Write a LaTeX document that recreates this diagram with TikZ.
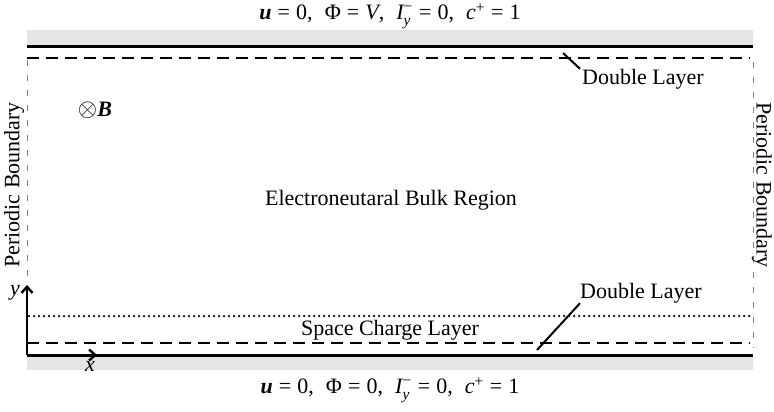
\documentclass[tikz,border=0pt]{standalone}
\usepackage{amsmath}
\usepackage{fontspec}
\setmainfont{Liberation Serif}
\usetikzlibrary{arrows.meta,positioning}

\begin{document}
\begin{tikzpicture}[x=1pt, y=-1pt,
  lbl/.style={font=\fontsize{22}{26}\selectfont, inner sep=0pt},
  wall/.style={line width=3pt},
  dlayer/.style={line width=2.5pt, dash pattern=on 12pt off 7pt},
  scharge/.style={line width=2.5pt, line cap=round, dash pattern=on 0pt off 5pt},
  pbound/.style={gray, line width=1pt, dash pattern=on 6pt off 9pt},
  lead/.style={line width=2pt},
  axis/.style={line width=2.5pt, -{Straight Barb[length=6pt,width=11pt]}}]
  \useasboundingbox (0,0) rectangle (774,412);
  % walls
  \fill[gray!20] (27,30) rectangle (753,47);
  \fill[gray!20] (27,355) rectangle (753,370);
  \coordinate (topL) at (27,47);
  \coordinate (topR) at (753,47);
  \coordinate (O) at (27,355);
  \coordinate (botR) at (753,355);
  \draw[wall] (topL) -- (topR);
  \draw[wall] (O) -- (botR);
  % layers
  \coordinate (dtL) at (27,58);
  \coordinate (dtR) at (750,58);
  \coordinate (dbL) at (27,343);
  \coordinate (dbR) at (750,343);
  \coordinate (scL) at (29,316);
  \coordinate (scR) at (753,316);
  \draw[dlayer] (dtL) -- (dtR);
  \draw[dlayer] (dbL) -- (dbR);
  \draw[scharge] (scL) -- (scR);
  % periodic boundaries
  \coordinate (pbL1) at (27,60);
  \coordinate (pbL2) at (27,283);
  \coordinate (pbR1) at (753,62);
  \coordinate (pbR2) at (753,348);
  \draw[pbound] (pbL1) -- (pbL2);
  \draw[pbound] (pbR1) -- (pbR2);
  \node[lbl, rotate=90] (pbleft) at (14,185) {Periodic Boundary};
  \node[lbl, rotate=-90] (pbright) at (762,185) {Periodic Boundary};
  % boundary conditions
  \node[lbl] (bctop) at (390,16)
    {\textbf{\textit{u}}\;=\;0,\hspace{12pt}Φ\;=\;\textit{V},\hspace{12pt}$\textit{I}^{\text{−}}_{\textit{y}}$\;=\;0,\hspace{12pt}\textit{c}$^{\text{+}}$\;=\;1};
  \node[lbl] (bcbot) at (390,390)
    {\textbf{\textit{u}}\;=\;0,\hspace{12pt}Φ\;=\;0,\hspace{12pt}$\textit{I}^{\text{−}}_{\textit{y}}$\;=\;0,\hspace{12pt}\textit{c}$^{\text{+}}$\;=\;1};
  % labels
  \node[lbl] (field) at (95,110) {{\fontsize{28}{30}\selectfont$\otimes$}\textbf{\textit{B}}};
  \node[lbl] (bulk) at (391,200) {Electroneutaral Bulk Region};
  \node[lbl] (space) at (390,330) {Space Charge Layer};
  \node[lbl, anchor=west] (dltop) at (582,79) {Double Layer};
  \node[lbl, anchor=west] (dlbot) at (580,293) {Double Layer};
  \coordinate (ltop) at (563,53);
  \coordinate (lbot) at (537,350);
  \draw[lead] (ltop) -- ([xshift=-2pt]dltop.north west);
  \draw[lead] (dlbot.south west) -- (lbot);
  % axes
  \coordinate (ytip) at (27,285);
  \coordinate (xtip) at (97,355);
  \draw[axis] (O) -- (ytip);
  \draw[axis] (O) -- (xtip);
  \node[lbl, font=\fontsize{22}{26}\selectfont\itshape] (ylab) at (15,293) {y};
  \node[lbl, font=\fontsize{22}{26}\selectfont\itshape] (xlab) at (90,366) {x};
\end{tikzpicture}
\end{document}
